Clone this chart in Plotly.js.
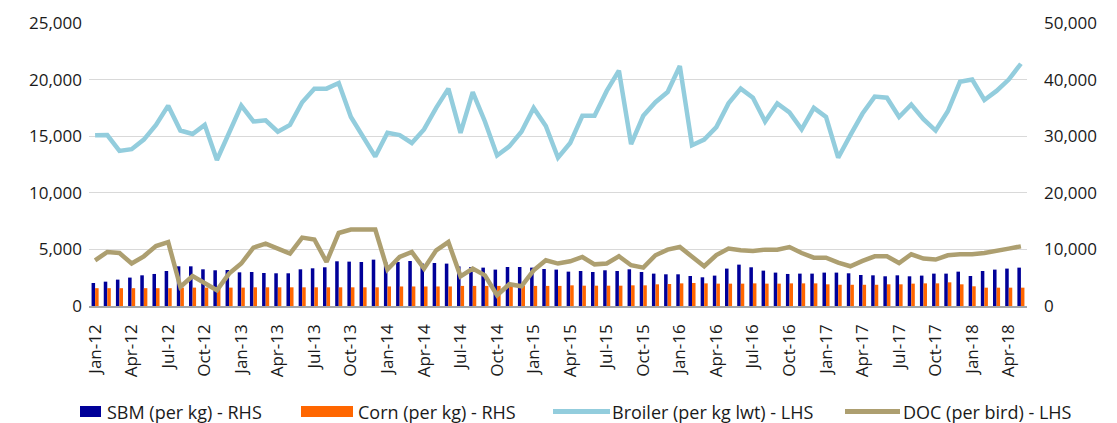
<!DOCTYPE html>
<html><head><meta charset="utf-8">
<script src="https://cdn.plot.ly/plotly-3.0.1.min.js"></script>
<style>html,body{margin:0;padding:0;background:#fff}#chart{width:1117px;height:423px}</style>
</head><body><div id="chart"></div>
<script>
const months = ['Jan-12','Feb-12','Mar-12','Apr-12','May-12','Jun-12','Jul-12','Aug-12','Sep-12','Oct-12','Nov-12','Dec-12',
'Jan-13','Feb-13','Mar-13','Apr-13','May-13','Jun-13','Jul-13','Aug-13','Sep-13','Oct-13','Nov-13','Dec-13',
'Jan-14','Feb-14','Mar-14','Apr-14','May-14','Jun-14','Jul-14','Aug-14','Sep-14','Oct-14','Nov-14','Dec-14',
'Jan-15','Feb-15','Mar-15','Apr-15','May-15','Jun-15','Jul-15','Aug-15','Sep-15','Oct-15','Nov-15','Dec-15',
'Jan-16','Feb-16','Mar-16','Apr-16','May-16','Jun-16','Jul-16','Aug-16','Sep-16','Oct-16','Nov-16','Dec-16',
'Jan-17','Feb-17','Mar-17','Apr-17','May-17','Jun-17','Jul-17','Aug-17','Sep-17','Oct-17','Nov-17','Dec-17',
'Jan-18','Feb-18','Mar-18','Apr-18','May-18'];

// RHS series (bars)
const sbm = [4060,4300,4660,5020,5420,5660,6180,7010,7010,6480,6310,6360,5950,
6010,5830,5780,5780,6480,6660,6840,7900,7840,7780,8190,7700,7780,
7950,7500,7600,7490,7000,6890,6780,6430,6890,6890,6780,6540,6430,
6070,6180,6010,6310,6180,6480,6010,5720,5600,5600,5300,5070,5370,
6610,7310,6840,6250,5900,5660,5720,5720,5900,5900,5780,5480,5420,
5250,5420,5250,5370,5720,5720,6070,5300,6180,6430,6610,6780];
const corn = [3150,3150,3150,3150,3150,3150,3150,
3250,3250,3250,3250,3250,3250,
3300,3300,3300,3300,3300,3300,3300,3300,3300,3300,3300,
3450,3450,3450,3450,3450,3450,
3550,3550,3550,3550,3550,3550,3550,3550,3550,
3650,3590,3590,3590,3590,3650,3650,3830,3890,4000,4060,4000,3950,
3950,3950,4000,3950,3950,4000,4000,4000,3830,3750,3750,3750,3750,
3830,3830,3950,4000,4000,4180,3830,3480,3240,3240,3240,3240];

// LHS series (lines)
const broiler = [15080,15100,13700,13850,14700,16000,17700,15500,15200,16000,12900,15200,
17700,16300,16400,15400,16000,18000,19200,19200,19700,16700,15000,13200,
15300,15100,14400,15600,17500,19200,15300,18900,16300,13300,14100,15400,
17500,15900,13100,14400,16800,16800,19000,20800,14300,16800,18000,18900,
21200,14200,14700,15800,17900,19200,18400,16300,17900,17100,15600,17500,
16700,13100,15100,17000,18500,18400,16700,17800,16500,15500,17200,19800,
20000,18200,19000,20000,21400];
const doc = [4040,4770,4680,3750,4390,5300,5650,1680,2650,1980,1390,2860,
3750,5160,5510,5070,4630,6040,5870,3890,6450,6750,6750,6750,
3220,4330,4770,3300,4920,5650,2620,3300,2710,950,1920,1740,
3150,4040,3750,3950,4330,3680,3750,4390,3600,3390,4480,4980,
5210,4330,3510,4500,5070,4920,4860,4980,4980,5210,4680,4270,
4270,3830,3510,3980,4390,4390,3800,4570,4190,4100,4480,4570,
4570,4680,4920,5070,5270];

const seriesNames = ['SBM (per kg) - RHS','Corn (per kg) - RHS','Broiler (per kg lwt) - LHS','DOC (per bird) - LHS'];
const leftTicks = [0,5000,10000,15000,20000,25000];
const rightTicks = [0,10000,20000,30000,40000,50000];
const xTickLabels = months.filter((m,i)=>i%3===0);

const COLORS = ['#000099','#FF6600','#93CDDD','#AD9F70'];
const FONT = {family:'"Open Sans", "Noto Sans", sans-serif', size:17, color:'#1a1a1a'};
const LEG_FONT = {family:'"Open Sans", "Noto Sans", sans-serif', size:18, color:'#1a1a1a'};

const W = 1117, H = 423, M = {l:89, r:90, t:23, b:117};
const PW = W - M.l - M.r, PH = H - M.t - M.b;
const px2x = p => (p - M.l) / PW;
const px2y = p => (H - M.b - p) / PH;

const traces = [
  {type:'bar', x:months, y:sbm, name:seriesNames[0], yaxis:'y', marker:{color:COLORS[0]}},
  {type:'bar', x:months, y:corn, name:seriesNames[1], yaxis:'y', marker:{color:COLORS[1]}},
  {type:'scatter', mode:'lines', x:months, y:broiler, name:seriesNames[2], yaxis:'y2',
   line:{color:COLORS[2], width:4.5}},
  {type:'scatter', mode:'lines', x:months, y:doc, name:seriesNames[3], yaxis:'y2',
   line:{color:COLORS[3], width:4.5}}
];

// legend drawn as swatches + text (pixel layout of the reference legend row)
const legendItems = [
  {kind:'rect', x0:80, x1:101, tx:105},
  {kind:'rect', x0:301, x1:353, tx:356},
  {kind:'line', x0:553, x1:610, tx:610},
  {kind:'line', x0:845, x1:900, tx:901}
];
const LEG_Y = 411.5;
const shapes = [], annotations = [];
legendItems.forEach((it, i) => {
  if (it.kind === 'rect') {
    shapes.push({type:'rect', xref:'paper', yref:'paper', x0:px2x(it.x0), x1:px2x(it.x1),
      y0:px2y(LEG_Y + 5.5), y1:px2y(LEG_Y - 5.5), fillcolor:COLORS[i], line:{width:0}});
  } else {
    shapes.push({type:'line', xref:'paper', yref:'paper', x0:px2x(it.x0), x1:px2x(it.x1),
      y0:px2y(LEG_Y), y1:px2y(LEG_Y), line:{color:COLORS[i], width:5}});
  }
  annotations.push({xref:'paper', yref:'paper', x:px2x(it.tx), y:px2y(LEG_Y), xanchor:'left', yanchor:'middle',
    text:seriesNames[i], showarrow:false, font:LEG_FONT});
});

const layout = {
  width:W, height:H,
  margin:{l:M.l, r:M.r, t:M.t, b:M.b, pad:0},
  paper_bgcolor:'#ffffff', plot_bgcolor:'#ffffff',
  font:FONT, showlegend:false,
  barmode:'group', bargap:0.42, bargroupgap:0,
  xaxis:{type:'category', tickmode:'array', tickvals:xTickLabels, ticktext:xTickLabels,
         tickangle:-90, showgrid:false, showline:true, linecolor:'#a6a6a6', linewidth:1.5,
         ticks:'', ticklabelstandoff:10, tickfont:FONT},
  yaxis:{side:'right', range:[0,50000], tickmode:'array', tickvals:rightTicks, tickformat:',',
         showgrid:true, gridcolor:'#d9d9d9', gridwidth:1.2, zeroline:false, showline:false,
         ticks:'', ticklabelstandoff:16, tickfont:FONT},
  yaxis2:{overlaying:'y', side:'left', range:[0,25000], tickmode:'array', tickvals:leftTicks, tickformat:',',
         showgrid:false, zeroline:false, showline:false, ticks:'', ticklabelstandoff:6, tickfont:FONT},
  shapes:shapes,
  annotations:annotations
};

Plotly.newPlot('chart', traces, layout, {displayModeBar:false, staticPlot:true});
</script>
</body></html>
